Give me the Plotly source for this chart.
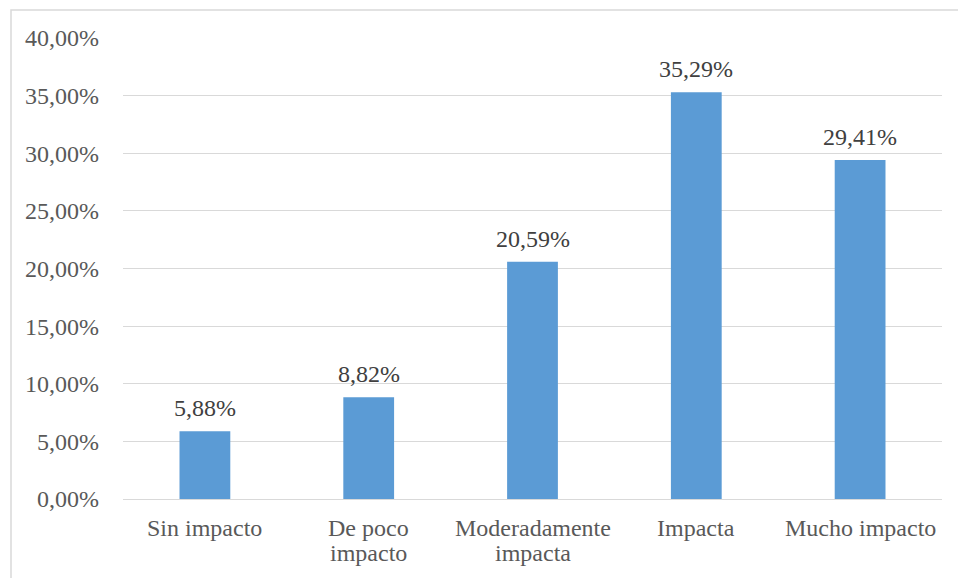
import plotly.graph_objects as go

categories = ["Sin impacto", "De poco<br>impacto", "Moderadamente<br>impacta", "Impacta", "Mucho impacto"]
values = [0.0588, 0.0882, 0.2059, 0.3529, 0.2941]
y_ticks = [0, 0.05, 0.10, 0.15, 0.20, 0.25, 0.30, 0.35, 0.40]

W, H = 958, 578
ml, mr, mt, mb = 123, 16, 38, 79
pw = W - ml - mr
ph = H - mt - mb

FONT = "Liberation Serif"
FS = 24

fig = go.Figure()
fig.add_trace(go.Bar(
    x=categories, y=values,
    marker=dict(color="#5B9BD5", line=dict(width=0)),
    cliponaxis=False,
))

annotations = []
for c, v in zip(categories, values):
    label = f"{v * 100:.2f}%".replace(".", ",")
    annotations.append(dict(x=c, y=v, xref="x", yref="y", text=label, showarrow=False,
                            xanchor="center", yanchor="bottom", yshift=8,
                            font=dict(family=FONT, size=FS, color="#404040")))
    for i, line in enumerate(c.split("<br>")):
        annotations.append(dict(x=c, y=0, xref="x", yref="paper", text=line, showarrow=False,
                                xanchor="center", yanchor="top", yshift=-14 - 24.5 * i,
                                font=dict(family=FONT, size=FS, color="#595959")))

fig.update_layout(
    width=W, height=H,
    margin=dict(l=ml, r=mr, t=mt, b=mb),
    paper_bgcolor="white", plot_bgcolor="white",
    bargap=0.69,
    showlegend=False,
    separators=",.",
    font=dict(family=FONT, size=FS, color="#595959"),
    xaxis=dict(showgrid=False, showline=True, linecolor="#D9D9D9", linewidth=1.3,
               ticks="", showticklabels=False),
    yaxis=dict(range=[0, 0.40], tickvals=y_ticks, tickformat=".2%",
               showgrid=True, gridcolor="#D9D9D9", gridwidth=1.3,
               zeroline=False, showline=False, ticks="", ticklabelstandoff=23,
               tickfont=dict(family=FONT, size=FS, color="#595959")),
    annotations=annotations,
    shapes=[dict(type="rect", xref="paper", yref="paper",
                 x0=(11 - ml) / pw, x1=1.2,
                 y0=-0.3, y1=(H - mb - 10) / ph,
                 line=dict(color="#D9D9D9", width=1.5), layer="below")],
)

fig.write_html("out.html")
